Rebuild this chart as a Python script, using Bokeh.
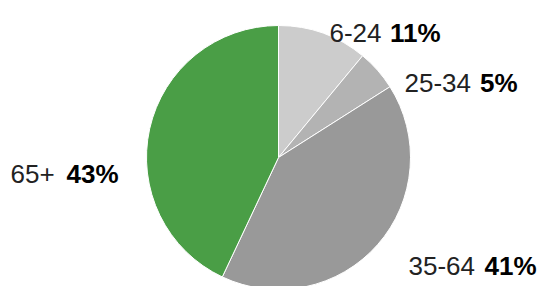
import math
from bokeh.plotting import figure
from bokeh.models import ColumnDataSource, Range1d
from bokeh.core.properties import value
from bokeh.embed import file_html
from bokeh.resources import INLINE

# data
categories = ["6-24", "25-34", "35-64", "65+"]
shares = [11, 5, 41, 43]

# styles
colors = ["#cccccc", "#b3b3b3", "#999999", "#4a9e46"]

W, H = 539, 286
p = figure(width=W, height=H, output_backend="svg", toolbar_location=None,
           x_range=Range1d(0, W), y_range=Range1d(0, H), min_border=0,
           outline_line_color=None)
p.axis.visible = False
p.grid.visible = False
p.background_fill_color = "white"
p.border_fill_color = "white"

def px(x):
    return x

def py(y):
    return H - y

cx, cy, r = px(278), py(157), 132
total = sum(shares)
starts, ends = [], []
cum = 0
for s in shares:
    a0 = math.pi / 2 - 2 * math.pi * (cum + s) / total
    a1 = math.pi / 2 - 2 * math.pi * cum / total
    starts.append(a0)
    ends.append(a1)
    cum += s

src = ColumnDataSource(dict(cat=categories, share=shares, color=colors,
                            start=starts, end=ends))
p.wedge(x=cx, y=cy, radius=r, start_angle="start", end_angle="end",
        fill_color="color", line_color="white", line_width=1, source=src)

# label layout: (start x of name, end x of percent, baseline y) in page px
label_pos = [(329, 440, 32), (404, 517, 82), (408, 536, 265), (10, 118, 173)]
font = value("Liberation Sans")
fs = "26px"
name_x = [px(a) for a, b, c in label_pos]
pct_x = [px(b) for a, b, c in label_pos]
lab_y = [py(c) for a, b, c in label_pos]
pcts = [f"{s}%" for s in shares]
lsrc = ColumnDataSource(dict(nx=name_x, px=pct_x, y=lab_y, name=categories, pct=pcts))
p.text(x="nx", y="y", text="name", source=lsrc, text_font=font,
       text_font_size=fs, text_color="#222222", text_align="left",
       text_baseline="alphabetic")
p.text(x="px", y="y", text="pct", source=lsrc, text_font=font,
       text_font_size=fs, text_font_style="bold", text_color="#000000",
       text_align="right", text_baseline="alphabetic")

open("out.html", "w").write(file_html(p, INLINE))
